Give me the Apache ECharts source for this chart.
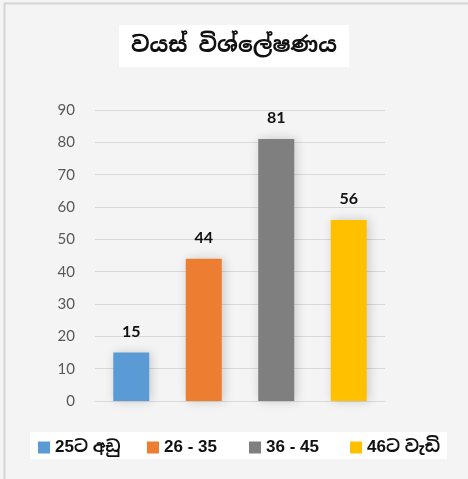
<!DOCTYPE html>
<html>
<head>
<meta charset="utf-8">
<script src="https://cdn.jsdelivr.net/npm/echarts@6/dist/echarts.min.js"></script>
<style>
  html, body { margin: 0; padding: 0; background: #fff; }
  #chart { width: 468px; height: 479px; }
</style>
</head>
<body>
<div id="chart"></div>
<script>
// data
const categories = ['25ට අඩු', '26 - 35', '36 - 45', '46ට වැඩි']
const values = [15, 44, 81, 56]
const colors = ['#5b9bd5', '#ed7d31', '#7f7f7f', '#ffc000']
const yTicks = [0, 10, 20, 30, 40, 50, 60, 70, 80, 90]

const sinFont = '"Noto Sans Sinhala", "Noto Sans", sans-serif'
const numFont = '"Liberation Sans", "Noto Sans Sinhala", sans-serif'

// legend item x positions (one small legend each)
const legendLeft = [38, 147, 249, 350]

let myChart = echarts.init(document.getElementById('chart'))

// one series per category so the legend gets four entries, stacked into one column
const series = categories.map((name, i) => ({
  name: name,
  type: 'bar',
  stack: 'all',
  barWidth: 36,
  itemStyle: {
    color: colors[i],
    shadowBlur: 10,
    shadowColor: 'rgba(0,0,0,0.18)',
    shadowOffsetX: 2
  },
  label: {
    show: true,
    position: 'top',
    distance: 13,
    color: '#111',
    fontWeight: 'bold',
    fontSize: 16,
    fontFamily: 'Lato, "Open Sans", sans-serif',
    formatter (p) {
      return p.value == null ? '' : p.value
    }
  },
  data: values.map((v, j) => (j === i ? v : null))
}))

const legends = categories.map((name, i) => ({
  left: legendLeft[i],
  top: 439,
  padding: 0,
  itemWidth: 12,
  itemHeight: 12,
  itemGap: 6,
  icon: 'rect',
  textStyle: {
    color: '#111',
    fontSize: 17,
    fontWeight: 'bold',
    fontFamily: numFont
  },
  data: [name]
}))

myChart.setOption({
  backgroundColor: '#f4f4f4',
  animation: false,
  graphic: [{
    type: 'rect',
    shape: { x: 4.5, y: 3.5, width: 470, height: 480 },
    style: { fill: 'none', stroke: '#d4d4d4', lineWidth: 2 },
    silent: true
  }, {
    type: 'rect',
    shape: { x: 30, y: 432, width: 417, height: 27 },
    style: { fill: '#fff' },
    silent: true,
    z: -1
  }],
  title: {
    text: 'වයස් විශ්ලේෂණය',
    left: 'center',
    top: 25,
    backgroundColor: '#fff',
    padding: [10, 12, 10, 12],
    textStyle: {
      color: '#111',
      fontSize: 22,
      fontWeight: 'bold',
      fontFamily: sinFont
    }
  },
  grid: {
    left: 95,
    right: 83,
    top: 110,
    bottom: 78
  },
  legend: legends,
  xAxis: {
    type: 'category',
    data: categories,
    axisLine: { lineStyle: { color: '#d9d9d9' } },
    axisTick: { show: false },
    axisLabel: { show: false }
  },
  yAxis: {
    type: 'value',
    min: yTicks[0],
    max: yTicks[yTicks.length - 1],
    interval: 10,
    axisLine: { show: false },
    axisTick: { show: false },
    splitLine: { lineStyle: { color: '#d9d9d9' } },
    axisLabel: {
      color: '#595959',
      fontSize: 15,
      margin: 20,
      fontFamily: 'Lato, "Open Sans", sans-serif'
    }
  },
  series: series
})
</script>
</body>
</html>
